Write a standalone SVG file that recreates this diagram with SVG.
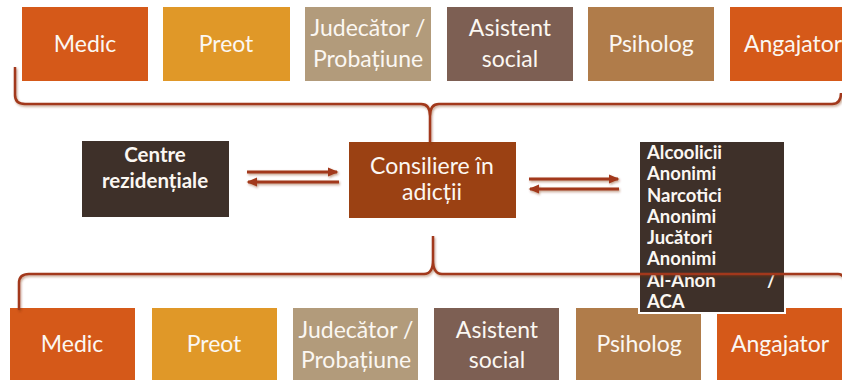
<svg xmlns="http://www.w3.org/2000/svg" width="842" height="380" viewBox="0 0 842 380">
<style>
.box text{font-family:Lato,"Open Sans","DejaVu Sans",sans-serif;fill:#fbf7f2;text-anchor:middle}
.lbl{font-size:23px}
.bold{font-weight:bold;font-size:20.5px}
.aa text{font-family:Lato,"Open Sans","DejaVu Sans",sans-serif;fill:#fbf7f2;font-weight:bold;font-size:18.5px}
.brace{fill:none;stroke:#a2391a;stroke-width:2.5;stroke-linejoin:round;filter:url(#sh)}
.arr{stroke:#a2391a;stroke-width:3;fill:none;filter:url(#sh2)}
</style>
<defs>
<filter id="sh" x="-10%" y="-50%" width="120%" height="200%">
<feDropShadow dx="1" dy="1.5" stdDeviation="1" flood-color="#7a2a10" flood-opacity="0.45"/>
</filter>
<filter id="sh2" filterUnits="userSpaceOnUse" x="200" y="150" width="450" height="60">
<feDropShadow dx="1" dy="1.5" stdDeviation="1" flood-color="#7a2a10" flood-opacity="0.45"/>
</filter>
<marker id="ah" markerWidth="5" markerHeight="5" refX="3" refY="2.5" orient="auto" markerUnits="strokeWidth">
<path d="M0,1 L3.5,2.5 L0,4 Z" fill="#a2391a"/>
</marker>
</defs>
<rect width="842" height="380" fill="#ffffff"/>

<!-- top row -->
<g id="top-medic" class="box"><rect x="22" y="7" width="126" height="74" fill="#d55919"/><text class="lbl" x="85" y="52">Medic</text></g>
<g id="top-preot" class="box"><rect x="163" y="7" width="127" height="74" fill="#e09828"/><text class="lbl" x="226" y="52">Preot</text></g>
<g id="top-judecator" class="box"><rect x="305" y="7" width="126" height="74" fill="#b29b7b"/><text class="lbl" x="368" y="36">Judecător /</text><text class="lbl" x="368" y="67">Probațiune</text></g>
<g id="top-asistent" class="box"><rect x="447" y="7" width="126" height="74" fill="#7d5f53"/><text class="lbl" x="510" y="36">Asistent</text><text class="lbl" x="510" y="67">social</text></g>
<g id="top-psiholog" class="box"><rect x="588" y="7" width="126" height="74" fill="#b07c4a"/><text class="lbl" x="651" y="52">Psiholog</text></g>
<g id="top-angajator" class="box"><rect x="730" y="7" width="126" height="74" fill="#d55919"/><text class="lbl" x="793" y="52">Angajator</text></g>

<!-- bottom row -->
<g id="bot-medic" class="box"><rect x="10" y="308" width="125" height="80" fill="#d55919"/><text class="lbl" x="72" y="352">Medic</text></g>
<g id="bot-preot" class="box"><rect x="152" y="308" width="125" height="80" fill="#e09828"/><text class="lbl" x="214" y="352">Preot</text></g>
<g id="bot-judecator" class="box"><rect x="293" y="308" width="125" height="80" fill="#b29b7b"/><text class="lbl" x="356" y="338">Judecător /</text><text class="lbl" x="356" y="368">Probațiune</text></g>
<g id="bot-asistent" class="box"><rect x="434" y="308" width="125" height="80" fill="#7d5f53"/><text class="lbl" x="497" y="338">Asistent</text><text class="lbl" x="497" y="368">social</text></g>
<g id="bot-psiholog" class="box"><rect x="576" y="308" width="125" height="80" fill="#b07c4a"/><text class="lbl" x="639" y="352">Psiholog</text></g>
<g id="bot-angajator" class="box"><rect x="717" y="308" width="130" height="80" fill="#d55919"/><text class="lbl" x="780" y="352">Angajator</text></g>

<!-- middle -->
<g id="centre" class="box"><rect x="82" y="141" width="147" height="76" fill="#3e3029"/><text class="bold" x="155" y="162">Centre</text><text class="bold" x="155" y="188">rezidențiale</text></g>
<g id="consiliere" class="box"><rect x="349" y="142" width="167" height="76" fill="#9b4113"/><text class="lbl" x="432" y="174">Consiliere în</text><text class="lbl" x="432" y="200">adicții</text></g>
<g id="aa" class="aa"><rect x="639" y="141" width="146" height="172" fill="#3e3029" stroke="#ffffff" stroke-width="2"/>
<text x="647" y="159">Alcoolicii</text>
<text x="647" y="180">Anonimi</text>
<text x="647" y="201.5">Narcotici</text>
<text x="647" y="222.5">Anonimi</text>
<text x="647" y="244">Jucători</text>
<text x="647" y="265">Anonimi</text>
<text x="647" y="286.5">Al-Anon</text>
<text x="767" y="286.5">/</text>
<text x="647" y="307.5">ACA</text>
</g>

<!-- connectors -->
<g id="connectors">
<path class="brace" d="M15,67 L15,95 Q15,104 25,104 L421,104 Q430,104 430,116 L430,142 M430,116 Q430,104 439,104 L832,104 Q841,104 841,93"/>
<path class="brace" d="M19,310 L19,283 Q19,274 29,274 L424,274 Q433,274 433,260 L433,236 M433,260 Q433,274 442,274 L838,274 Q846,274 846,290"/>
<line class="arr" x1="247" y1="172" x2="337" y2="172" marker-end="url(#ah)"/>
<line class="arr" x1="339" y1="182" x2="248" y2="182" marker-end="url(#ah)"/>
<line class="arr" x1="529" y1="179" x2="618" y2="179" marker-end="url(#ah)"/>
<line class="arr" x1="619" y1="189" x2="530" y2="189" marker-end="url(#ah)"/>
</g>
</svg>
